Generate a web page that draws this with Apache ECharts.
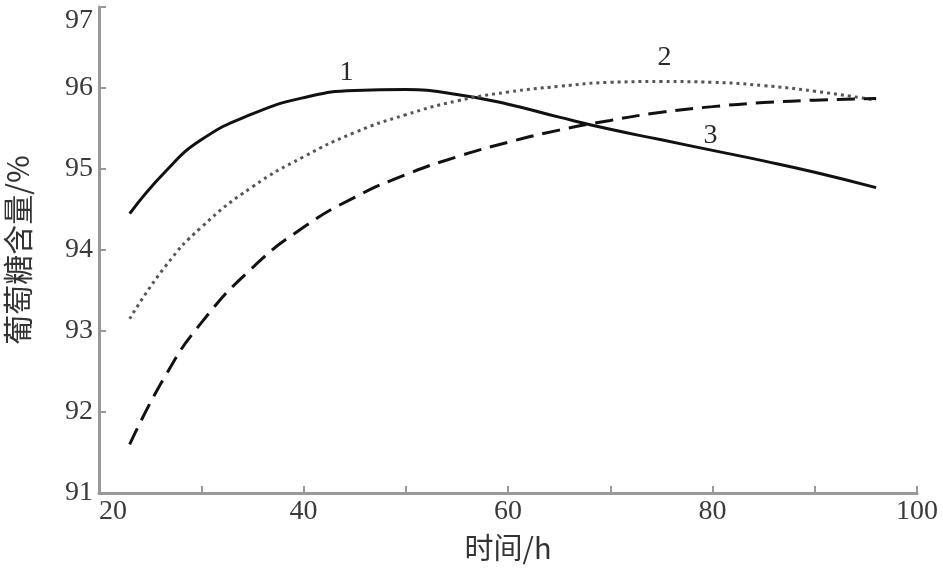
<!DOCTYPE html>
<html>
<head>
<meta charset="utf-8">
<script src="https://cdn.jsdelivr.net/npm/echarts@6/dist/echarts.min.js"></script>
<style>html,body{margin:0;padding:0;background:#fff;}#c{width:943px;height:568px;}</style>
</head>
<body>
<div id="c"></div>
<script>
const hours = [23, 26.5, 30, 35, 40, 45, 50, 55, 60, 65, 70, 75, 80, 85, 90, 96];
const curve1 = [94.45, 94.97, 95.36, 95.68, 95.88, 95.97, 95.98, 95.92, 95.8, 95.64, 95.49, 95.36, 95.23, 95.1, 94.96, 94.77];
const curve2 = [93.15, 93.8, 94.28, 94.78, 95.15, 95.45, 95.67, 95.84, 95.95, 96.02, 96.07, 96.08, 96.07, 96.03, 95.96, 95.85];
const curve3 = [91.6, 92.45, 93.1, 93.78, 94.28, 94.65, 94.93, 95.15, 95.33, 95.48, 95.6, 95.7, 95.77, 95.82, 95.85, 95.87];
const curveLabels = [
  { name: '1', x: 44.2, y: 96.19 },
  { name: '2', x: 75.3, y: 96.38 },
  { name: '3', x: 79.8, y: 95.41 }
];
const xName = '时间/h';
const yName = '葡萄糖含量/%';

const pairs = arr => hours.map((h, i) => [h, arr[i]]);
const serif = '"Liberation Serif", "DejaVu Serif", serif';
const cjk = '"Noto Sans CJK SC", sans-serif';

const chart = echarts.init(document.getElementById('c'));
chart.setOption({
  animation: false,
  grid: { left: 99, right: 26, top: 7, bottom: 75, containLabel: false, outerBoundsMode: 'none' },
  xAxis: {
    type: 'value', min: 20, max: 100, interval: 10,
    name: xName, nameLocation: 'middle', nameGap: 40,
    nameTextStyle: { fontSize: 29, color: '#333', fontFamily: cjk },
    axisLine: { lineStyle: { color: '#999', width: 3 } },
    axisTick: { inside: true, length: 7, lineStyle: { color: '#999', width: 2 } },
    axisLabel: { fontSize: 28, color: '#3a3a3a', fontFamily: serif, margin: 5, alignMinLabel: 'left',
      formatter: v => (v % 20 === 0 ? String(v) : '') },
    splitLine: { show: false }
  },
  yAxis: {
    type: 'value', min: 91, max: 97, interval: 1,
    name: yName, nameLocation: 'middle', nameGap: 66,
    nameTextStyle: { fontSize: 30, color: '#333', fontFamily: cjk },
    axisLine: { lineStyle: { color: '#999', width: 3 } },
    axisTick: { inside: true, length: 7, lineStyle: { color: '#999', width: 2 } },
    axisLabel: { fontSize: 28, color: '#3a3a3a', fontFamily: serif, margin: 6, verticalAlignMaxLabel: 'top' },
    splitLine: { show: false }
  },
  series: [
    {
      type: 'line', data: pairs(curve1), smooth: true, symbol: 'none',
      lineStyle: { color: '#111', width: 3, type: 'solid' },
      markPoint: {
        symbol: 'circle', symbolSize: 0,
        label: { show: true, position: 'inside', fontSize: 28, color: '#2a2a2a', fontFamily: serif, formatter: p => p.name },
        data: curveLabels.map(l => ({ name: l.name, coord: [l.x, l.y] }))
      }
    },
    {
      type: 'line', data: pairs(curve2), smooth: true, symbol: 'none',
      lineStyle: { color: '#555', width: 3, type: [3, 4] }
    },
    {
      type: 'line', data: pairs(curve3), smooth: true, symbol: 'none',
      lineStyle: { color: '#111', width: 3, type: [18, 9] }
    }
  ]
});
</script>
</body>
</html>
